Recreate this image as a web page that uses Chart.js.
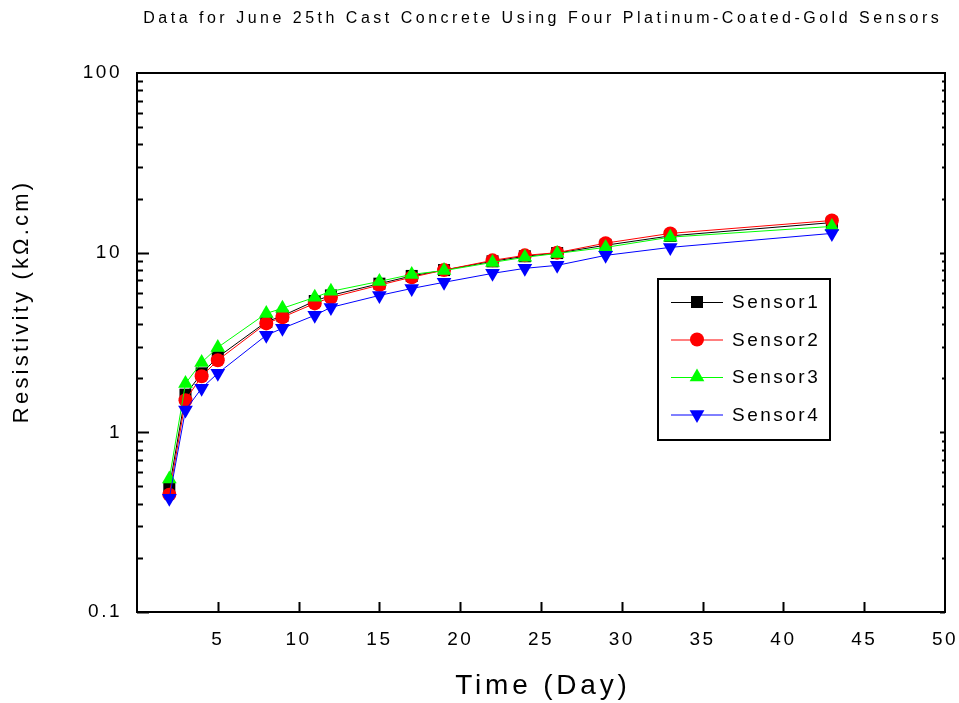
<!DOCTYPE html>
<html>
<head>
<meta charset="utf-8">
<script src="https://cdn.jsdelivr.net/npm/chart.js@4.4.1/dist/chart.umd.min.js"></script>
<style>
  body { margin: 0; background: #fff; }
</style>
</head>
<body>
<canvas id="resChart" width="959" height="703"></canvas>
<script>
// curing days and resistivity (kOhm.cm) for each sensor
const days = [2, 3, 4, 5, 8, 9, 11, 12, 15, 17, 19, 22, 24, 26, 29, 33, 43];
const sensor1 = [0.49, 1.62, 2.13, 2.62, 4.12, 4.45, 5.38, 5.78, 6.72, 7.42, 8.0, 8.95, 9.55, 9.95, 11.0, 12.4, 14.7];
const sensor2 = [0.45, 1.51, 2.05, 2.52, 4.04, 4.37, 5.22, 5.63, 6.6, 7.3, 8.0, 9.06, 9.66, 10.0, 11.3, 12.8, 15.1];
const sensor3 = [0.55, 1.87, 2.45, 2.97, 4.59, 4.9, 5.64, 6.09, 6.92, 7.57, 7.95, 8.83, 9.42, 9.9, 10.7, 12.2, 14.0];
const sensor4 = [0.43, 1.33, 1.76, 2.13, 3.47, 3.79, 4.48, 4.96, 5.78, 6.32, 6.84, 7.67, 8.18, 8.5, 9.66, 10.7, 12.8];

const xTicks = [5, 10, 15, 20, 25, 30, 35, 40, 45, 50];
const yTicks = [0.1, 1, 10, 100];

const chartTitle = 'Data for June 25th Cast Concrete Using Four Platinum-Coated-Gold Sensors';
const xTitle = 'Time (Day)';
const yTitle = 'Resistivity (k\u03A9.cm)';

const FONT = "'Liberation Sans', Arial, sans-serif";
Chart.defaults.font.family = FONT;
Chart.defaults.color = '#000';

const sensors = [
  { label: 'Sensor1', values: sensor1, color: '#000000', style: 'rect', radius: 8.5, rotation: 0 },
  { label: 'Sensor2', values: sensor2, color: '#ff0000', style: 'circle', radius: 7, rotation: 0 },
  { label: 'Sensor3', values: sensor3, color: '#00ff00', style: 'triangle', radius: 8.5, rotation: 0 },
  { label: 'Sensor4', values: sensor4, color: '#0000ff', style: 'triangle', radius: 8.5, rotation: 180 }
];

const toPoints = vals => days.map((d, i) => ({ x: d, y: vals[i] }));

function spacedText(ctx, text, x, y, size, spacing, angle) {
  ctx.save();
  ctx.translate(x, y);
  if (angle) ctx.rotate(angle);
  ctx.font = size + 'px ' + FONT;
  ctx.letterSpacing = spacing + 'px';
  ctx.fillStyle = '#000';
  ctx.textAlign = 'center';
  ctx.textBaseline = 'middle';
  ctx.fillText(text, spacing / 2, 0);
  ctx.restore();
}

// box around the plot, inward tick marks and the titles
const frame = {
  id: 'frame',
  beforeDraw(chart) {
    chart.ctx.letterSpacing = '2.5px';
  },
  afterDraw(chart) {
    const { ctx, chartArea: a, scales: { x, y } } = chart;
    ctx.save();
    ctx.strokeStyle = '#000';
    ctx.lineWidth = 2;
    ctx.strokeRect(a.left, a.top, a.right - a.left, a.bottom - a.top);
    ctx.beginPath();
    for (let e = -1; e <= 1; e++) {
      for (let m = 1; m <= 9; m++) {
        const py = Math.round(y.getPixelForValue(m * Math.pow(10, e))) + 0.5;
        const len = m === 1 ? 12 : 6;
        ctx.moveTo(a.left, py); ctx.lineTo(a.left + len, py);
        ctx.moveTo(a.right, py); ctx.lineTo(a.right - (m === 1 ? 5 : 3), py);
      }
    }
    xTicks.forEach(v => {
      if (v >= 50) return;
      const px = Math.round(x.getPixelForValue(v)) + 0.5;
      ctx.moveTo(px, a.bottom); ctx.lineTo(px, a.bottom - 10);
    });
    ctx.stroke();
    ctx.restore();

    const cx = (a.left + a.right) / 2;
    spacedText(ctx, chartTitle, cx, 19, 16, 3.5);
    spacedText(ctx, xTitle, cx, 686, 28, 3.8);
    spacedText(ctx, yTitle, 22, 303, 22, 3.2, -Math.PI / 2);
  }
};

// boxed legend inside the plot area
const boxLegend = {
  id: 'boxLegend',
  afterDraw(chart) {
    const { ctx } = chart;
    const bx = 658, by = 279, bw = 172, bh = 161;
    ctx.save();
    ctx.strokeStyle = '#000';
    ctx.lineWidth = 2;
    ctx.strokeRect(bx, by, bw, bh);
    ctx.font = '19px ' + FONT;
    ctx.letterSpacing = '2.5px';
    ctx.textBaseline = 'middle';
    chart.data.datasets.forEach((ds, i) => {
      const cy = by + 23 + i * 37.5;
      ctx.strokeStyle = ds.borderColor;
      ctx.lineWidth = 1;
      ctx.beginPath();
      ctx.moveTo(bx + 13, cy + 0.5); ctx.lineTo(bx + 65, cy + 0.5);
      ctx.stroke();
      ctx.fillStyle = ds.borderColor;
      Chart.helpers.drawPoint(ctx, {
        pointStyle: ds.pointStyle, radius: ds.pointRadius,
        rotation: ds.pointRotation, borderWidth: 0
      }, bx + 39, cy);
      ctx.fillStyle = '#000';
      ctx.fillText(ds.label, bx + 74, cy + 1);
    });
    ctx.restore();
  }
};

new Chart(document.getElementById('resChart'), {
  type: 'line',
  data: {
    datasets: sensors.map((s, i) => ({
      label: s.label,
      data: toPoints(s.values),
      borderColor: s.color,
      backgroundColor: s.color,
      borderWidth: 1,
      pointStyle: s.style,
      pointRadius: s.radius,
      pointRotation: s.rotation,
      pointBorderWidth: 0,
      pointBackgroundColor: s.color,
      tension: 0,
      order: sensors.length - i
    }))
  },
  options: {
    responsive: false,
    animation: false,
    layout: { padding: { left: 0, right: 14, top: 73, bottom: 0 } },
    plugins: {
      legend: { display: false },
      tooltip: { enabled: false },
      title: { display: false }
    },
    scales: {
      x: {
        type: 'linear',
        min: 0,
        max: 50,
        grid: { display: false, drawTicks: false },
        border: { display: false },
        afterBuildTicks: s => { s.ticks = xTicks.map(v => ({ value: v })); },
        afterFit: s => { s.height = 91; s.paddingLeft = 0; s.paddingRight = 0; },
        ticks: { padding: 16, autoSkip: false, maxRotation: 0, font: { size: 19 } }
      },
      y: {
        type: 'logarithmic',
        min: 0.1,
        max: 100,
        grid: { display: false, drawTicks: false },
        border: { display: false },
        afterBuildTicks: s => { s.ticks = yTicks.map(v => ({ value: v })); },
        afterFit: s => { s.width = 137; s.paddingTop = 0; s.paddingBottom = 0; },
        ticks: { padding: 15, autoSkip: false, font: { size: 19 }, callback: v => String(v) }
      }
    }
  },
  plugins: [frame, boxLegend]
});
</script>
</body>
</html>
